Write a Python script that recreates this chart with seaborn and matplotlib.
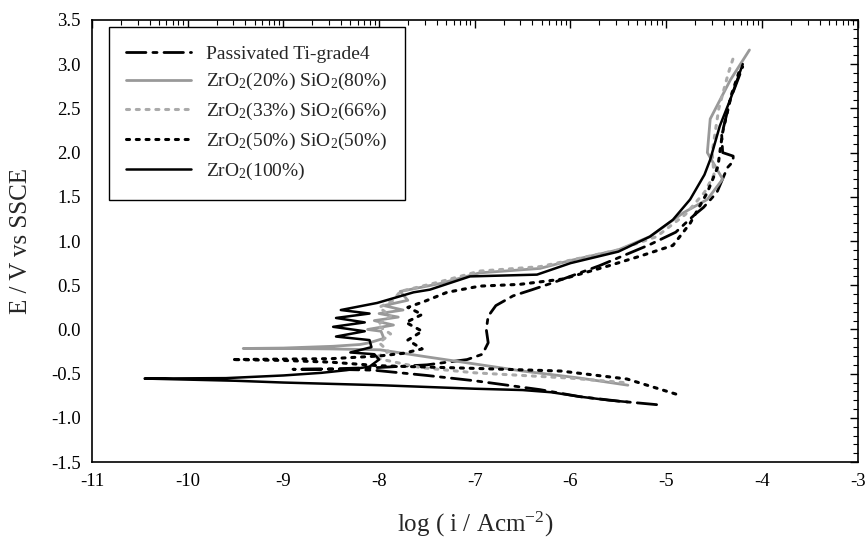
import numpy as np
import pandas as pd
import matplotlib
matplotlib.use("Agg")
import matplotlib.pyplot as plt
from matplotlib.ticker import FixedLocator, MultipleLocator
import seaborn as sns

# ---- data (log i, E) ----
ti_logi = [-5.1, -5.5, -5.9, -6.32, -7.0, -7.5, -8.06, -8.5, -8.9,
           -8.5, -8.0, -7.5, -7.29, -7.08, -6.92, -6.86, -6.88, -6.86, -6.78, -6.6,
           -6.4, -6.18, -5.7, -5.17, -4.9, -4.7, -4.61, -4.47, -4.36, -4.3, -4.3,
           -4.41, -4.42, -4.33, -4.2]
ti_E = [-0.85, -0.81, -0.76, -0.68, -0.58, -0.52, -0.46, -0.45, -0.45,
        -0.445, -0.43, -0.40, -0.37, -0.34, -0.28, -0.15, 0.00, 0.15, 0.27, 0.38,
        0.45, 0.53, 0.72, 0.96, 1.10, 1.30, 1.38, 1.55, 1.83, 1.90, 1.96,
        2.00, 2.20, 2.60, 2.97]

z20_logi = [-5.4, -5.9, -6.5, -7.0, -7.5, -7.99, -8.5, -9.0, -9.42,
            -9.0, -8.48, -8.2, -8.1, -7.95, -7.98, -8.12, -7.85, -8.05, -7.8, -8.0,
            -7.75, -7.95, -7.7, -7.78, -7.36, -6.95, -6.32, -6.0, -5.5, -5.17,
            -4.82, -4.57, -4.41, -4.57, -4.54, -4.33, -4.13]
z20_E = [-0.63, -0.55, -0.47, -0.39, -0.31, -0.23, -0.22, -0.215, -0.215,
         -0.21, -0.19, -0.17, -0.15, -0.10, -0.02, 0.00, 0.05, 0.10, 0.14, 0.18,
         0.22, 0.27, 0.33, 0.43, 0.52, 0.64, 0.69, 0.78, 0.90, 1.05,
         1.32, 1.47, 1.70, 2.00, 2.38, 2.82, 3.16]

z33_logi = [-5.45, -6.0, -6.5, -7.0, -7.57, -8.05,
            -7.9, -8.0, -7.88, -8.02, -7.88, -8.0, -7.85, -7.78,
            -7.36, -6.95, -6.32, -5.97, -5.5, -5.1, -4.8, -4.6, -4.5,
            -4.52, -4.45, -4.35, -4.29]
z33_E = [-0.60, -0.55, -0.52, -0.49, -0.43, -0.32,
         -0.25, -0.15, -0.05, 0.05, 0.15, 0.25, 0.33, 0.43,
         0.54, 0.66, 0.71, 0.79, 0.90, 1.05, 1.30, 1.55, 1.75,
         2.00, 2.50, 2.90, 3.10]

z50_logi = [-4.9, -5.2, -5.41, -6.1, -7.0, -8.0, -8.5, -9.0, -9.54,
            -9.0, -8.5, -8.0, -7.75, -7.55, -7.7, -7.55, -7.72, -7.55, -7.7, -7.52,
            -7.29, -6.95, -6.53, -6.08, -5.6, -5.27, -4.93, -4.75, -4.57, -4.46,
            -4.41, -4.32, -4.22]
z50_E = [-0.73, -0.63, -0.56, -0.47, -0.44, -0.41, -0.37, -0.35, -0.34,
         -0.335, -0.33, -0.30, -0.27, -0.22, -0.12, -0.02, 0.08, 0.17, 0.25, 0.32,
         0.42, 0.49, 0.51, 0.57, 0.72, 0.83, 0.95, 1.20, 1.55, 1.84,
         2.23, 2.65, 2.97]

z100_logi = [-5.4, -5.6, -5.9, -6.2, -6.5, -7.0, -8.0, -9.0, -9.5, -10.45,
             -9.6, -9.0, -8.6, -8.34, -8.1, -8.0, -8.05, -8.3, -8.08, -8.1, -8.45,
             -8.15, -8.48, -8.15, -8.45, -8.1, -8.4, -8.02, -7.64, -7.47, -7.05,
             -6.35, -6.0, -5.5, -5.17, -4.93, -4.75, -4.6, -4.54, -4.44, -4.33, -4.2]
z100_E = [-0.82, -0.80, -0.76, -0.71, -0.685, -0.67, -0.63, -0.60, -0.58, -0.555,
          -0.55, -0.52, -0.49, -0.46, -0.42, -0.34, -0.28, -0.26, -0.20, -0.12, -0.08,
          -0.02, 0.03, 0.08, 0.13, 0.18, 0.22, 0.30, 0.42, 0.45, 0.60,
          0.62, 0.75, 0.88, 1.05, 1.24, 1.47, 1.75, 1.92, 2.30, 2.60, 3.00]

labels = ["Passivated Ti-grade4",
          r"ZrO$_2$(20%) SiO$_2$(80%)",
          r"ZrO$_2$(33%) SiO$_2$(66%)",
          r"ZrO$_2$(50%) SiO$_2$(50%)",
          r"ZrO$_2$(100%)"]

series = [(ti_logi, ti_E), (z20_logi, z20_E), (z33_logi, z33_E),
          (z50_logi, z50_E), (z100_logi, z100_E)]

sns.set_theme(style="white")
plt.rcParams["font.family"] = ["Liberation Serif", "DejaVu Serif"]
plt.rcParams["mathtext.fontset"] = "custom"
plt.rcParams["mathtext.rm"] = "Liberation Serif"
plt.rcParams["mathtext.it"] = "Liberation Serif:italic"

fig = plt.figure(figsize=(8.68, 5.38), dpi=100)
ax = fig.add_axes([0.106, 0.141, 0.882, 0.822])

styles = [
    dict(color="black", lw=2.0, dashes=(7, 2.5, 1.5, 2.5)),
    dict(color="#999999", lw=2.0),
    dict(color="#aaaaaa", lw=2.2, dashes=(1, 2.2)),
    dict(color="black", lw=2.2, dashes=(1, 2.2)),
    dict(color="black", lw=1.8),
]

for (xs, ys), lab, st in zip(series, labels, styles):
    df = pd.DataFrame({"logi": xs, "E": ys})
    sns.lineplot(data=df, x="logi", y="E", sort=False, estimator=None, ax=ax,
                 label=lab, color=st["color"], linewidth=st["lw"])
    line = ax.get_lines()[-1]
    if "dashes" in st:
        line.set_dashes(st["dashes"])
        line.set_dash_capstyle("round")

ax.set_xlim(-11, -3)
ax.set_ylim(-1.5, 3.5)
ax.set_xticks(np.arange(-11, -2, 1))
ax.set_xticklabels([str(v) for v in range(-11, -2)])
ax.set_yticks(np.arange(-1.5, 3.51, 0.5))
ax.set_yticklabels([f"{v:.1f}" for v in np.arange(-1.5, 3.51, 0.5)])
minor_x = [d + np.log10(k) for d in range(-11, -3) for k in range(2, 10)]
ax.xaxis.set_minor_locator(FixedLocator(minor_x))
ax.yaxis.set_minor_locator(MultipleLocator(0.1))
ax.tick_params(which="both", direction="in", top=True, right=True, colors="black",
               labelsize=13.5, pad=8)
ax.tick_params(which="major", length=6, width=1)
ax.tick_params(which="minor", length=3.5, width=0.8)
for s in ax.spines.values():
    s.set_color("black")
    s.set_linewidth(1.2)

ax.set_xlabel(r"log ( i / Acm$^{-2}$)", fontsize=18, labelpad=14)
ax.set_ylabel("E / V vs SSCE", fontsize=18, labelpad=14)

leg = ax.legend(loc="upper left", bbox_to_anchor=(0.022, 0.983), fontsize=14,
                frameon=True, fancybox=False, framealpha=1, edgecolor="black",
                handlelength=3.3, handletextpad=0.8, borderpad=0.9,
                labelspacing=0.45, borderaxespad=0)
leg.get_frame().set_linewidth(1.0)

fig.savefig("out.png", dpi=100)
